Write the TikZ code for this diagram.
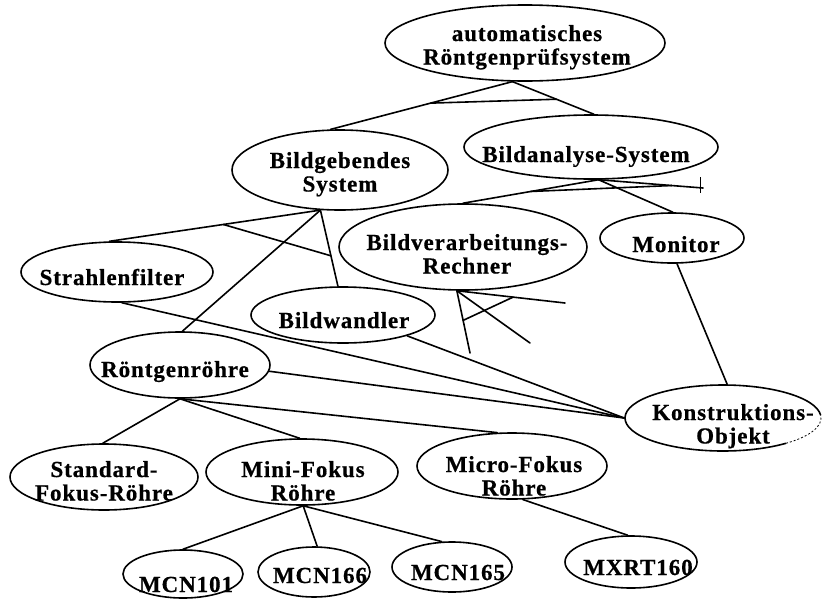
\documentclass[tikz,border=0pt]{standalone}
\usepackage{fontspec}
\setmainfont{Liberation Serif}[LetterSpace=4, BoldFeatures={FakeBold=0.6}]
\usetikzlibrary{shapes.geometric,calc}
% two centred lines, baseline at the first line
\newcommand\twol[2]{\vtop{\halign{\hfil##\hfil\cr#1\cr#2\cr}}}
\begin{document}
\begin{tikzpicture}[x=1pt,y=1pt,
  ell/.style={ellipse, draw, line width=1.6pt, inner sep=0pt},
  lbl/.style={inner sep=0pt, anchor=base, font=\bfseries\fontsize{23}{23.5}\selectfont},
  link/.style={line width=1.6pt, line cap=round}]
\useasboundingbox (0,0) rectangle (824,-600);

% ---- ellipses ----
\node[ell, minimum width=280pt, minimum height=76pt] (A) at (525,-43) {};
\node[ell, minimum width=216pt, minimum height=80pt] (B) at (340,-170) {};
\node[ell, minimum width=254pt, minimum height=64pt] (C) at (591,-147) {};
\node[ell, minimum width=192pt, minimum height=60pt] (D) at (117,-272) {};
\node[ell, minimum width=248pt, minimum height=86pt] (E) at (463,-247) {};
\node[ell, minimum width=144pt, minimum height=50pt] (F) at (672,-238) {};
\node[ell, minimum width=184pt, minimum height=56pt] (G) at (343,-315) {};
\node[ell, minimum width=180pt, minimum height=66pt] (H) at (180,-365) {};
\node[ell, draw=none, minimum width=196pt, minimum height=66pt] (K) at (723,-418) {};
\node[ell, minimum width=188pt, minimum height=66pt] (S) at (104,-477) {};
\node[ell, minimum width=192pt, minimum height=66pt] (M) at (302,-472) {};
\node[ell, minimum width=190pt, minimum height=66pt] (R) at (512,-466) {};
\node[ell, minimum width=120pt, minimum height=48pt] (N1) at (183,-574) {};
\node[ell, minimum width=112pt, minimum height=50pt] (N2) at (314,-572) {};
\node[ell, minimum width=120pt, minimum height=50pt] (N3) at (452,-567) {};
\node[ell, minimum width=132pt, minimum height=52pt] (X) at (631,-562) {};

% outline of the Konstruktions-Objekt ellipse, faint at the lower right
\draw[line width=1.6pt] ($(K.center)+({98*cos(5)},{33*sin(5)})$)
  arc[start angle=5, end angle=310, x radius=98, y radius=33];
\draw[line width=0.8pt, dash pattern=on 2pt off 2pt] ($(K.center)+({98*cos(310)},{33*sin(310)})$)
  arc[start angle=310, end angle=365, x radius=98, y radius=33];

% ---- labels ----
\node[lbl] (At) at (527,-41) {\twol{automatisches}{Röntgenprüfsystem}};
\node[lbl] (Bt) at (340,-168) {\twol{Bildgebendes}{System}};
\node[lbl] (Ct) at (586,-162) {Bildanalyse-System};
\node[lbl] (Dt) at (112,-285) {Strahlenfilter};
\node[lbl] (Et) at (467,-250) {\twol{Bildverarbeitungs-}{Rechner}};
\node[lbl] (Ft) at (676,-252) {Monitor};
\node[lbl] (Gt) at (344,-328) {Bildwandler};
\node[lbl] (Ht) at (175,-377) {Röntgenröhre};
\node[lbl] (Kt) at (733,-420) {\twol{Konstruktions-}{Objekt}};
\node[lbl] (St) at (104,-477) {\twol{Standard-}{Fokus-Röhre}};
\node[lbl] (Mt) at (303,-477) {\twol{Mini-Fokus}{Röhre}};
\node[lbl] (Rt) at (514,-472) {\twol{Micro-Fokus}{Röhre}};
\node[lbl] (N1t) at (186,-592) {MCN101};
\node[lbl] (N2t) at (320,-583) {MCN166};
\node[lbl] (N3t) at (458,-580) {MCN165};
\node[lbl] (Xt) at (638,-575) {MXRT160};

% ---- free line ends ----
\coordinate (ce) at (703,-188);
\coordinate (e1) at (565,-303);
\coordinate (e2) at (470,-353);
\coordinate (e3) at (530,-343);

% ---- connectors ----
\draw[link] (A.252) -- (B.103);
\draw[link] (A.252) -- (C.85);
\draw[link] ($(A.252)!0.45!(B.103)$) -- ($(A.252)!0.54!(C.85)$);

\draw[link] (C.283) -- (E.90);
\draw[link] (C.283) -- (F.88);
\draw[link] (C.283) -- (ce);
\draw[line width=1pt] ([xshift=-3pt,yshift=11pt]ce) -- ([xshift=-3pt,yshift=-5pt]ce);
\draw[link] ($(C.283)!0.5!(E.90)$) -- ($(C.283)!0.7!(ce)$);

\draw[link] (B.244) -- (D.104);
\draw[link] (B.244) -- (G.100);
\draw[link] (B.244) -- (H.86);
\draw[link] ($(B.244)!0.46!(D.104)$) -- ($(B.244)!0.6!(G.100)$);

\draw[link] (E.262) -- (e1);
\draw[link] (E.262) -- (e2);
\draw[link] (E.262) -- (e3);
\draw[link] ($(E.262)!0.476!(e2)$) -- ($(E.262)!0.52!(e1)$);

\draw[link] (D.279) -- (K.180);
\draw[link] (G.-18) -- (K.180);
\draw[link] (H.-4) -- (K.180);
\draw[link] (F.281) -- (K.83);

\draw[link] (H.270) -- (S.92);
\draw[link] (H.270) -- (M.94);
\draw[link] (H.270) -- (R.114);

\draw[link] (M.272) -- (N1.90);
\draw[link] (M.272) -- (N2.83);
\draw[link] (M.272) -- (N3.112);
\draw[link] (R.288) -- (X.97);
\end{tikzpicture}
\end{document}
